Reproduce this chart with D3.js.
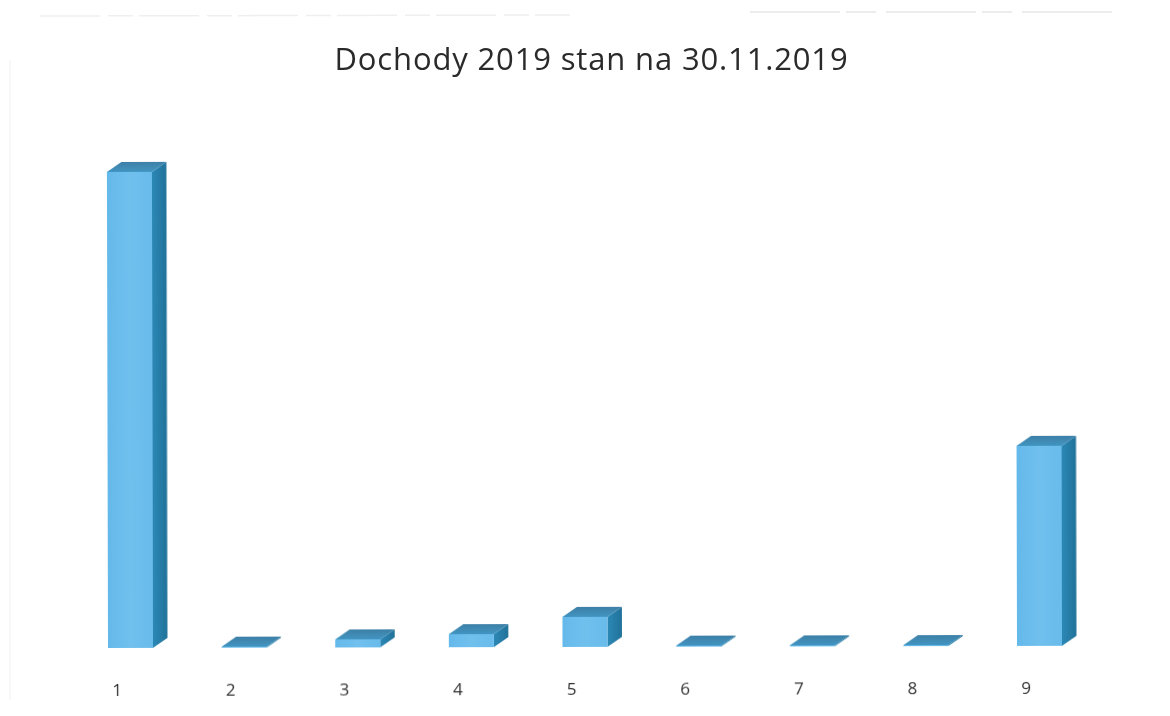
<!DOCTYPE html>
<html><head><meta charset="utf-8">
<script src="https://cdnjs.cloudflare.com/ajax/libs/d3/7.8.5/d3.min.js"></script>
<style>html,body{margin:0;padding:0;background:#fff;overflow:hidden}svg{display:block}</style>
</head><body><svg id="c" width="1170" height="716"></svg>
<script>
const categories = ["1","2","3","4","5","6","7","8","9"];
const values = [476, 1, 8, 13, 30, 1, 1, 1, 200];
const chartTitle = "Dochody 2019 stan na 30.11.2019";

const svg = d3.select("#c");
const baseY = 648, topY = 172, dx = 14.5, dy = 10;
const x = d3.scaleBand().domain(categories).range([108, 1062]).paddingInner(0.604).paddingOuter(0);
const y = d3.scaleLinear().domain([0, 476]).range([baseY, topY]);

const defs = svg.append("defs");
function grad(id, dir, stops){
  const g = defs.append("linearGradient").attr("id", id);
  if(dir === "h") g.attr("x1",0).attr("x2",1).attr("y1",0).attr("y2",0);
  else g.attr("x1",0).attr("x2",0).attr("y1",0).attr("y2",1);
  stops.forEach(s => g.append("stop").attr("offset", s[0]).attr("stop-color", s[1]));
}
grad("front","h",[[0,"#64b9ea"],[0.5,"#70c0ee"],[1,"#68bbea"]]);
grad("side","h",[[0,"#2c88b6"],[1,"#217299"]]);
grad("topf","v",[[0,"#3d7fa6"],[1,"#4195c2"]]);
defs.append("filter").attr("id","soft").append("feGaussianBlur").attr("stdDeviation",0.55);
defs.append("filter").attr("id","softText").append("feGaussianBlur").attr("stdDeviation",0.35);

// faint scan marks
const scan = svg.append("g").attr("filter","url(#soft)");
[[40,16,570,15,"#efefef",1.5,"60 8 25 6"],[750,12,1112,12,"#e6e6e6",1.5,"90 6 30 10"],[10,60,10,700,"#f6f6f6",1.5,""]].forEach(l=>{
  scan.append("line").attr("x1",l[0]).attr("y1",l[1]).attr("x2",l[2]).attr("y2",l[3]).attr("stroke",l[4]).attr("stroke-width",l[5]).attr("stroke-dasharray",l[6]);
});

svg.append("text").attr("x",591.5).attr("y",70).attr("text-anchor","middle")
  .attr("font-family","'Open Sans',sans-serif").attr("font-size",31).attr("letter-spacing",0.85)
  .attr("fill","#2b2b2b").attr("filter","url(#softText)").text(chartTitle);

// whole plot sits slightly tilted, as on the scanned page
const plot = svg.append("g").attr("transform",`rotate(-0.13 108 ${baseY})`);
const bw = x.bandwidth();
const bars = plot.selectAll("g.bar").data(categories.map((c,i)=>({c,v:values[i]}))).join("g").attr("class","bar").attr("filter","url(#soft)");

bars.append("path").attr("fill","url(#side)").attr("d",d=>{
  const r=x(d.c)+bw,t=y(d.v);
  return `M${r},${t}L${r+dx},${t-dy}L${r+dx},${baseY-dy}L${r},${baseY}Z`;
});
bars.append("path").attr("fill","url(#topf)").attr("d",d=>{
  const l=x(d.c),r=l+bw,t=y(d.v);
  return `M${l},${t}L${l+dx},${t-dy}L${r+dx},${t-dy}L${r},${t}Z`;
});
bars.append("rect").attr("fill","url(#front)")
  .attr("x",d=>x(d.c)).attr("width",bw)
  .attr("y",d=>y(d.v)).attr("height",d=>baseY-y(d.v));

plot.selectAll("text.tick").data(categories).join("text").attr("class","tick")
  .attr("x",d=>x(d)+9).attr("y",695.5).attr("text-anchor","middle")
  .attr("font-family","'Open Sans',sans-serif").attr("font-size",17).attr("fill","#333").attr("filter","url(#softText)").text(d=>d);
</script></body></html>
